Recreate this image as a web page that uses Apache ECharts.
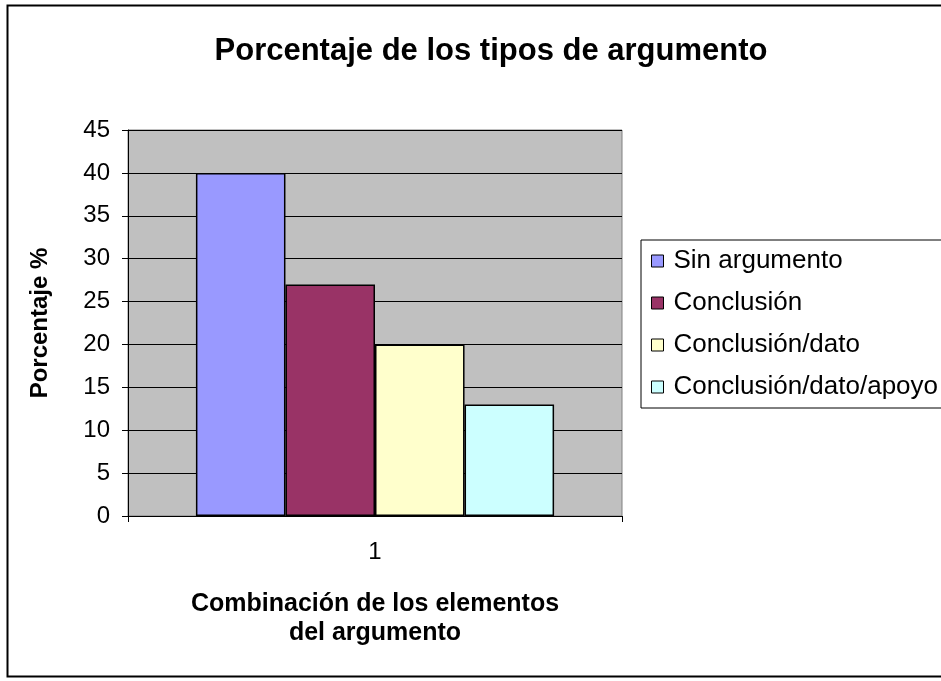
<!DOCTYPE html>
<html>
<head>
<meta charset="utf-8">
<script src="https://cdn.jsdelivr.net/npm/echarts@6/dist/echarts.min.js"></script>
<style>html,body{margin:0;padding:0;background:#fff}#c{width:941px;height:681px}</style>
</head>
<body>
<div id="c"></div>
<script>
var categories = ['1'];
var seriesNames = ['Sin argumento', 'Conclusión', 'Conclusión/dato', 'Conclusión/dato/apoyo'];
var sinArgumento = [40];
var conclusion = [27];
var conclusionDato = [20];
var conclusionDatoApoyo = [13];
var yTicks = [0, 45, 5];
var colors = ['#9999FF', '#993366', '#FFFFCC', '#CCFFFF'];

var values = [sinArgumento, conclusion, conclusionDato, conclusionDatoApoyo];
var chart = echarts.init(document.getElementById('c'));
var font = 'Arial, "Liberation Sans", sans-serif';
chart.setOption({
  animation: false,
  textStyle: { fontFamily: font },
  title: {
    text: 'Porcentaje de los tipos de argumento',
    left: 486, top: 31, textAlign: 'center',
    textStyle: { fontSize: 31, fontWeight: 'bold', color: '#000', fontFamily: font }
  },
  graphic: [{
    type: 'rect', shape: { x: 7.5, y: 5.5, width: 945, height: 671 },
    style: { fill: 'none', stroke: '#000', lineWidth: 2 }, silent: true, z: 100
  }],
  legend: {
    orient: 'vertical', left: 641, top: 240,
    padding: [8, 40, 8, 10], itemGap: 16,
    itemWidth: 12, itemHeight: 12, icon: 'rect',
    borderColor: '#000', borderWidth: 1, backgroundColor: '#fff',
    itemStyle: { borderColor: '#000', borderWidth: 1 },
    textStyle: { fontSize: 26, color: '#000', fontFamily: font, padding: [0, 0, 0, 5] },
    data: seriesNames
  },
  grid: {
    left: 128, right: 319, top: 130, bottom: 165,
    show: true, backgroundColor: '#C0C0C0', borderColor: '#808080', borderWidth: 1
  },
  xAxis: {
    type: 'category', data: categories,
    name: 'Combinación de los elementos\ndel argumento',
    nameLocation: 'middle', nameGap: 74,
    nameTextStyle: { fontSize: 25, fontWeight: 'bold', color: '#000', lineHeight: 29, fontFamily: font },
    axisLine: { lineStyle: { color: '#000', width: 1 } },
    axisTick: { show: true, length: 6, lineStyle: { color: '#000' } },
    axisLabel: { fontSize: 24, color: '#000', margin: 24 }
  },
  yAxis: {
    type: 'value', min: yTicks[0], max: yTicks[1], interval: yTicks[2],
    name: 'Porcentaje %', nameLocation: 'middle', nameGap: 76, nameRotate: 90,
    nameTextStyle: { fontSize: 24, fontWeight: 'bold', color: '#000', fontFamily: font },
    axisLine: { show: true, lineStyle: { color: '#000', width: 1 } },
    axisTick: { show: true, length: 6, lineStyle: { color: '#000' } },
    axisLabel: { fontSize: 24, color: '#000', margin: 18 },
    splitLine: { show: true, lineStyle: { color: '#000', width: 1 } }
  },
  series: values.map(function (v, i) {
    return {
      type: 'bar', name: seriesNames[i], data: v,
      barGap: '0%', barCategoryGap: '27.5%',
      itemStyle: { color: colors[i], borderColor: '#000', borderWidth: 1.5 }
    };
  })
});
</script>
</body>
</html>
